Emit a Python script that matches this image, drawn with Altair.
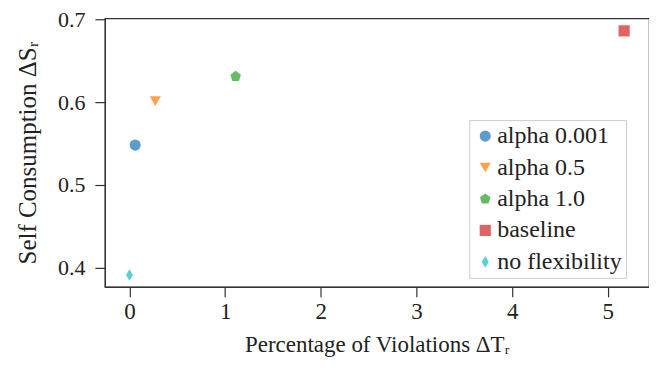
import altair as alt
import pandas as pd

labels = ["alpha 0.001", "alpha 0.5", "alpha 1.0", "baseline", "no flexibility"]
violations = [0.06, 0.27, 1.11, 5.17, 0.0]
self_consumption = [0.548, 0.601, 0.631, 0.686, 0.391]
colors = ["#1f77b4", "#ff7f0e", "#2ca02c", "#d62728", "#17becf"]
shapes = [
    "circle",
    "triangle-down",
    "M0,-1L0.951,-0.309L0.588,0.809L-0.588,0.809L-0.951,-0.309Z",
    "square",
    "M0,-1.05L0.62,0L0,1.05L-0.62,0Z",
]
x_ticks = [0, 1, 2, 3, 4, 5]
y_ticks = [0.4, 0.5, 0.6, 0.7]

df = pd.DataFrame({"label": labels, "x": violations, "y": self_consumption})

FONT = "Liberation Serif"

chart = (
    alt.Chart(df)
    .mark_point(filled=True, size=125, opacity=0.72, strokeWidth=1)
    .encode(
        x=alt.X(
            "x:Q",
            scale=alt.Scale(domain=[-0.257, 5.43], nice=False, zero=False),
            axis=alt.Axis(values=x_ticks, format="d", title="Percentage of Violations ΔTᵣ", grid=False),
        ),
        y=alt.Y(
            "y:Q",
            scale=alt.Scale(domain=[0.3767, 0.7012], nice=False, zero=False),
            axis=alt.Axis(values=y_ticks, format=".1f", title="Self Consumption ΔSᵣ", grid=False),
        ),
        color=alt.Color(
            "label:N",
            scale=alt.Scale(domain=labels, range=colors),
            legend=alt.Legend(title=None),
        ),
        shape=alt.Shape(
            "label:N",
            scale=alt.Scale(domain=labels, range=shapes),
            legend=alt.Legend(title=None),
        ),
    )
    .properties(width=545, height=269, padding={"left": 97, "top": 10, "right": 0, "bottom": 75}, autosize="none")
    .configure_view(stroke="#333333", strokeWidth=1.2)
    .configure_axis(
        labelFont=FONT,
        titleFont=FONT,
        labelColor="#222222",
        titleColor="#222222",
        titleFontWeight="normal",
        domainColor="#333333",
        domainWidth=1.2,
        tickColor="#333333",
        tickWidth=1.2,
        tickSize=10,
    )
    .configure_axisX(labelFontSize=23, labelPadding=4, titlePadding=10, titleFontSize=23)
    .configure_axisY(labelFontSize=22, labelPadding=10, titlePadding=17, titleFontSize=25)
    .configure_legend(
        orient="none",
        legendX=365,
        legendY=102,
        labelFont=FONT,
        labelFontSize=24,
        labelColor="#222222",
        fillColor="white",
        strokeColor="#cccccc",
        padding=4,
        rowPadding=7.5,
        symbolSize=125,
        symbolOpacity=0.72,
        symbolStrokeWidth=1,
        labelOffset=0,
        labelLimit=300,
    )
)

chart.save("out.html", embed_options={"renderer": "svg", "actions": False})
